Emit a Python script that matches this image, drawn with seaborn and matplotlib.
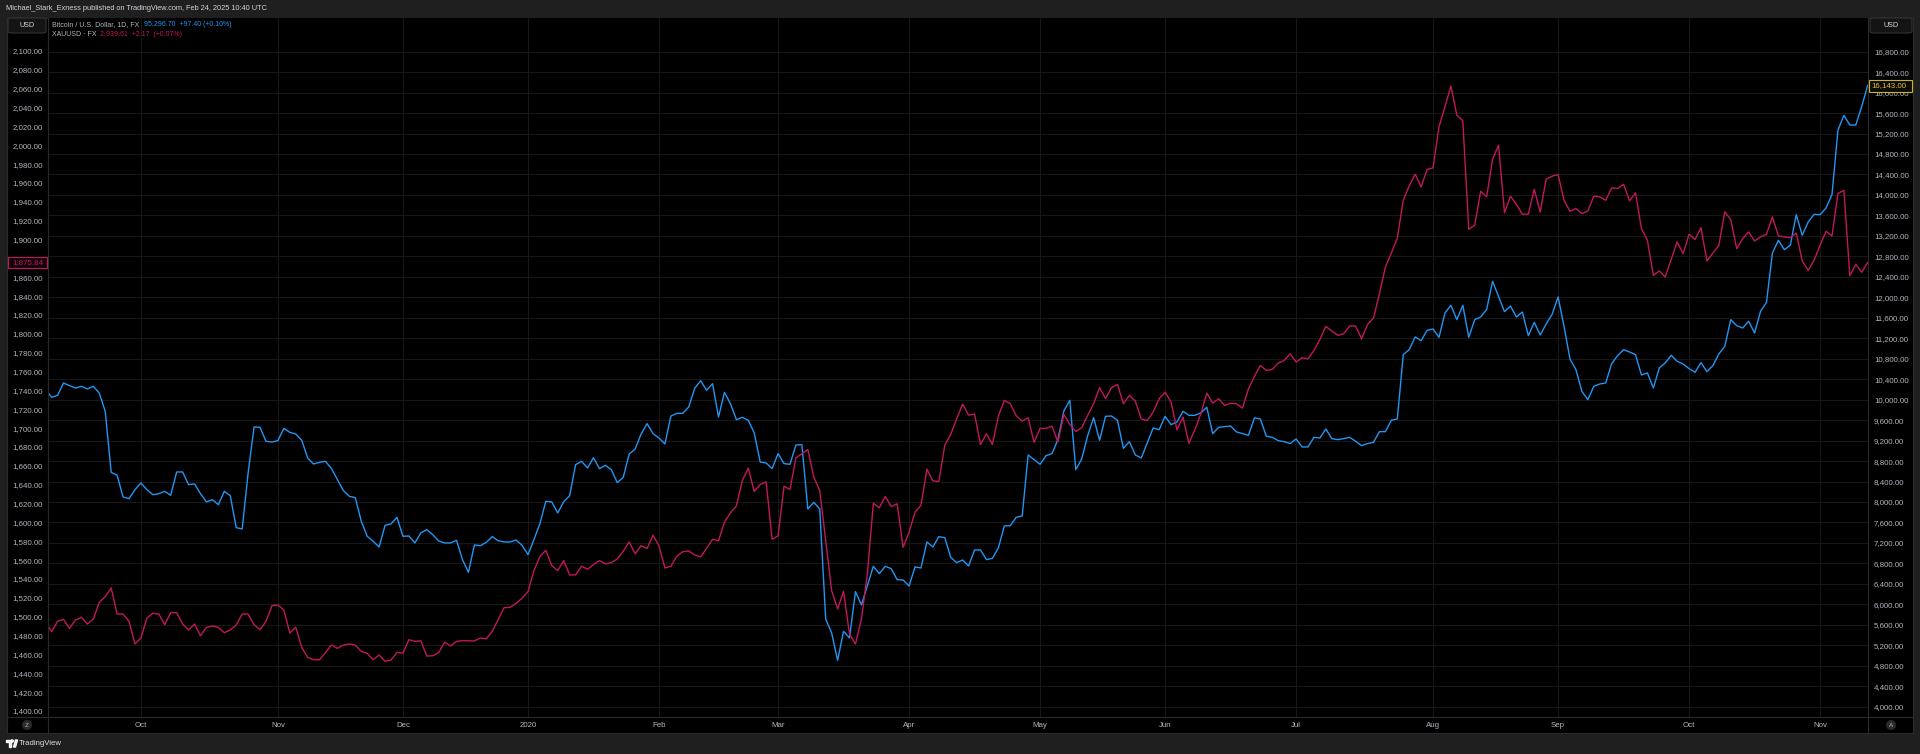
import numpy as np
import pandas as pd
import matplotlib
matplotlib.use('Agg')
import matplotlib.pyplot as plt
import matplotlib.patches as mpatches
from matplotlib.lines import Line2D
from matplotlib.ticker import FuncFormatter
import seaborn as sns

# daily closes (one value per trading bar)
btc_close = [
    10195, 10046, 10085, 10326, 10274, 10228, 10261, 10209, 10261, 10130,
    9772, 8580, 8522, 8098, 8066, 8242, 8372, 8242, 8144, 8163,
    8209, 8131, 8587, 8587, 8339, 8352, 8163, 8001, 8046, 7948,
    8209, 8124, 7499, 7473, 8567, 9466, 9460, 9186, 9173, 9199,
    9440, 9362, 9329, 9206, 8860, 8743, 8776, 8795, 8652, 8437,
    8222, 8111, 8085, 7623, 7330, 7232, 7121, 7545, 7571, 7701,
    7330, 7336, 7200, 7395, 7460, 7362, 7239, 7200, 7200, 7252,
    6874, 6626, 7160, 7147, 7212, 7323, 7245, 7219, 7219, 7258,
    7154, 6972, 7265, 7577, 8014, 8001, 7786, 8007, 8124, 8730,
    8795, 8665, 8867, 8652, 8717, 8632, 8378, 8483, 8938, 9036,
    9329, 9531, 9336, 9251, 9134, 9681, 9733, 9733, 9857, 10222,
    10371, 10183, 10313, 9661, 10143, 9922, 9609, 9655, 9596, 9349,
    8782, 8763, 8652, 8945, 8750, 8737, 9114, 9121, 7864, 7994,
    7864, 5714, 5441, 4907, 5474, 5343, 6249, 5988, 6366, 6744,
    6600, 6744, 6698, 6483, 6477, 6359, 6731, 6711, 7219, 7121,
    7323, 7304, 6919, 6815, 6867, 6750, 7063, 7063, 6874, 6900,
    7102, 7532, 7538, 7701, 7727, 8919, 8828, 8737, 8906, 8945,
    9219, 9779, 9987, 8632, 8841, 9297, 9648, 9206, 9674, 9681,
    9596, 9049, 9180, 8919, 8860, 9154, 9447, 9414, 9675, 9512,
    9564, 9773, 9694, 9694, 9740, 9851, 9336, 9460, 9473, 9486,
    9369, 9336, 9304, 9642, 9623, 9284, 9264, 9199, 9180, 9141,
    9232, 9076, 9076, 9264, 9251, 9427, 9238, 9219, 9238, 9264,
    9186, 9101, 9141, 9167, 9375, 9375, 9597, 9623, 10880, 10977,
    11225, 11153, 11355, 11381, 11218, 11694, 11844, 11564, 11844, 11218,
    11564, 11616, 11759, 12313, 12019, 11720, 11830, 11616, 11713, 11251,
    11511, 11264, 11479, 11668, 12006, 11433, 10795, 10587, 10163, 10000,
    10261, 10306, 10326, 10704, 10860, 10977, 10932, 10880, 10483, 10522,
    10228, 10619, 10717, 10867, 10750, 10697, 10606, 10535, 10724, 10548,
    10665, 10893, 11043, 11563, 11446, 11401, 11531, 11303, 11726, 11902,
    12866, 13114, 12931, 13016, 13615, 13211, 13472, 13622, 13615, 13745,
    14006, 15263, 15556, 15367, 15367, 15732, 16143,
]

gold_close = [
    1494.0, 1484.1, 1495.1, 1497.2, 1487.6, 1496.5, 1499.3, 1492.2, 1497.5, 1515.2,
    1521.2, 1530.5, 1502.8, 1502.8, 1495.1, 1471.0, 1477.4, 1498.6, 1503.6, 1502.8,
    1491.5, 1504.3, 1504.3, 1492.2, 1485.9, 1492.2, 1479.8, 1488.7, 1490.1, 1488.7,
    1483.0, 1485.9, 1491.2, 1502.8, 1502.8, 1491.5, 1486.2, 1495.1, 1511.7, 1512.4,
    1507.1, 1482.7, 1488.7, 1467.4, 1456.8, 1454.3, 1454.3, 1462.1, 1469.9, 1466.4,
    1469.9, 1471.0, 1469.9, 1463.2, 1461.1, 1454.3, 1459.3, 1452.6, 1454.0, 1462.1,
    1461.4, 1475.6, 1473.8, 1474.5, 1458.2, 1458.6, 1461.8, 1473.1, 1468.9, 1473.8,
    1474.5, 1474.5, 1474.2, 1477.4, 1476.6, 1484.4, 1497.2, 1509.6, 1509.9, 1514.2,
    1519.5, 1526.6, 1548.9, 1563.7, 1570.5, 1554.2, 1548.9, 1559.5, 1544.3, 1544.3,
    1553.5, 1550.3, 1555.2, 1559.5, 1556.0, 1557.4, 1561.2, 1569.4, 1579.3, 1566.6,
    1575.4, 1572.2, 1586.4, 1575.1, 1551.7, 1553.5, 1564.1, 1569.0, 1569.7, 1565.5,
    1563.4, 1572.6, 1582.1, 1580.4, 1600.5, 1610.1, 1617.5, 1644.4, 1657.5, 1632.8,
    1640.2, 1643.0, 1582.1, 1585.7, 1638.4, 1634.9, 1668.5, 1672.8, 1677.4, 1648.0,
    1633.8, 1580.7, 1527.6, 1508.1, 1526.9, 1481.6, 1471.0, 1497.5, 1545.3, 1620.4,
    1615.4, 1627.4, 1616.8, 1619.7, 1573.6, 1589.6, 1610.8, 1618.2, 1656.5, 1644.1,
    1643.4, 1682.0, 1693.3, 1709.9, 1725.5, 1713.8, 1714.9, 1682.7, 1694.0, 1682.7,
    1712.8, 1729.4, 1725.9, 1713.1, 1707.5, 1711.0, 1684.8, 1699.7, 1699.7, 1702.1,
    1685.2, 1714.5, 1703.9, 1696.5, 1700.4, 1713.5, 1725.9, 1742.9, 1731.2, 1742.9,
    1746.4, 1725.9, 1734.7, 1728.7, 1709.6, 1708.1, 1717.0, 1731.1, 1738.2, 1727.6,
    1698.2, 1711.6, 1684.0, 1698.2, 1715.2, 1737.1, 1726.5, 1731.1, 1724.0, 1726.5,
    1725.8, 1721.2, 1741.7, 1754.8, 1766.5, 1761.2, 1762.2, 1769.0, 1771.8, 1778.9,
    1770.0, 1774.6, 1773.6, 1782.4, 1794.1, 1807.9, 1803.0, 1798.4, 1800.1, 1808.3,
    1808.3, 1794.8, 1810.0, 1816.8, 1842.6, 1870.9, 1885.8, 1901.7, 1941.7, 1956.9,
    1969.3, 1955.9, 1974.3, 1976.1, 2019.6, 2040.8, 2062.8, 2032.0, 2026.0, 1910.9,
    1915.2, 1951.3, 1945.3, 1985.3, 2000.0, 1928.4, 1946.0, 1937.5, 1926.9, 1926.9,
    1953.4, 1929.3, 1964.0, 1967.2, 1969.0, 1941.7, 1930.0, 1932.9, 1927.6, 1930.4,
    1946.0, 1945.3, 1941.7, 1954.8, 1954.1, 1958.7, 1941.0, 1949.5, 1911.6, 1899.2,
    1862.1, 1866.7, 1860.3, 1879.1, 1897.5, 1885.1, 1905.6, 1900.0, 1912.7, 1877.3,
    1885.8, 1893.6, 1929.3, 1921.2, 1890.4, 1901.0, 1908.1, 1898.5, 1902.8, 1905.6,
    1924.0, 1903.8, 1902.8, 1902.1, 1907.0, 1877.3, 1867.4, 1878.0, 1893.9, 1908.8,
    1903.8, 1948.8, 1952.3, 1861.7, 1873.8, 1865.3, 1875.84,
]

first_bar = '2019-09-09'
closed_days = ['2019-12-25', '2020-01-01']

header_text = 'Michael_Stark_Exness published on TradingView.com, Feb 24, 2025 10:40 UTC'
btc_name = 'Bitcoin / U.S. Dollar, 1D, FX'
btc_quote = '95,296.70  +97.40 (+0.10%)'
gold_name = 'XAUUSD \u00b7 FX'
gold_quote = '2,939.61  +2.17  (+0.07%)'

BLUE = '#2196f3'
CRIMSON = '#c2185b'
TEXT = '#b2b5be'
GRID = '#171717'
EDGE = '#2a2a2a'
BG = '#1f1f1f'

W, H = 1920, 754

sns.set_theme(style='dark')
plt.rcParams['font.family'] = ['Liberation Sans', 'DejaVu Sans']

bars = pd.bdate_range(first_bar, periods=len(btc_close), freq='C', holidays=closed_days)
df = pd.DataFrame({'bar': np.arange(len(bars)), 'date': bars,
                   'btc': btc_close, 'gold': gold_close})

# first bar of every month -> x tick
firsts = df.groupby(df['date'].dt.to_period('M'))['bar'].min().iloc[1:]
month_ticks = firsts.values
month_labels = [str(p.year) if p.month == 1 else p.strftime('%b') for p in firsts.index]


def fx(x):
    return x / W


def fy(y):
    return 1 - y / H


def money(v, pos=None):
    return f'{v:,.2f}'


fig = plt.figure(figsize=(W / 100, H / 100), dpi=100, facecolor=BG)

# black chart panel
fig.add_artist(mpatches.Rectangle((fx(7), fy(733)), fx(1913 - 7), (733 - 18) / H,
                                  transform=fig.transFigure, facecolor='black',
                                  edgecolor=EDGE, linewidth=0.8, zorder=0))

ax = fig.add_axes([fx(48), fy(717), fx(1868 - 48), (717 - 18) / H])
ax.set_facecolor('black')
sns.lineplot(data=df, x='bar', y='btc', ax=ax, color=BLUE, linewidth=1.0)

ax_g = ax.twinx()
sns.lineplot(data=df, x='bar', y='gold', ax=ax_g, color=CRIMSON, linewidth=1.0)

# BTC scale on the right, gold scale on the left
ax.yaxis.tick_right()
ax_g.yaxis.tick_left()

ax.set_xlim(0.39, 306.05)
ax.set_ylim(3799, 17458)
ax.set_yticks(np.arange(4000, 16801, 400))
ax.yaxis.set_major_formatter(FuncFormatter(money))
ax.set_xticks(month_ticks)
ax.set_xticklabels(month_labels)
ax.tick_params(axis='y', which='both', left=False, labelleft=False, right=False,
               labelright=True, length=0, pad=4.3, labelsize=5.7, labelcolor=TEXT)
ax.tick_params(axis='x', length=0, pad=3.6, labelsize=5.7, labelcolor=TEXT)
ax.grid(True, color=GRID, linewidth=0.75)
ax.set_xlabel('')
ax.set_ylabel('')

ax_g.set_ylim(1393.6, 2135.0)
ax_g.set_yticks(np.arange(1400, 2101, 20))
ax_g.yaxis.set_major_formatter(FuncFormatter(money))
ax_g.tick_params(axis='y', which='both', right=False, labelright=False, left=False,
                 labelleft=True, length=0, pad=3.6, labelsize=5.7, labelcolor=TEXT)
ax_g.grid(False)
ax_g.set_ylabel('')
ax_g.set_xlim(0.39, 306.05)
for a in (ax, ax_g):
    for s in a.spines.values():
        s.set_visible(False)

# axis separators
for x in (48, 1868):
    fig.add_artist(Line2D([fx(x), fx(x)], [fy(18), fy(733)], transform=fig.transFigure,
                          color=EDGE, linewidth=0.8))
fig.add_artist(Line2D([fx(7), fx(1913)], [fy(717), fy(717)], transform=fig.transFigure,
                      color=EDGE, linewidth=0.8))

# header and legend
fig.text(fx(6), fy(9), header_text, fontsize=5.3, color='#d1d4dc', va='center', ha='left')
fig.text(fx(52), fy(25), btc_name, fontsize=5.0, color=TEXT, va='center')
fig.text(fx(144), fy(25), btc_quote, fontsize=5.0, color=BLUE, va='center')
fig.text(fx(52), fy(34), gold_name, fontsize=5.0, color=TEXT, va='center')
fig.text(fx(100), fy(34), gold_quote, fontsize=5.0, color=CRIMSON, va='center')

# currency boxes
for x0, x1 in ((8, 46), (1870, 1912)):
    fig.add_artist(mpatches.FancyBboxPatch((fx(x0), fy(33)), fx(x1 - x0), 15 / H,
                                           boxstyle='round,pad=0,rounding_size=0.002',
                                           transform=fig.transFigure, facecolor='#141414',
                                           edgecolor='#333333', linewidth=0.8))
    fig.text(fx((x0 + x1) / 2), fy(25.5), 'USD', fontsize=5.2, color='#d1d4dc',
             ha='center', va='center')

# last price labels
fig.add_artist(mpatches.Rectangle((fx(8), fy(268)), fx(39), 11.5 / H, transform=fig.transFigure,
                                  facecolor='#12040a', edgecolor=CRIMSON, linewidth=0.8, zorder=5))
fig.text(fx(27.5), fy(262.3), money(gold_close[-1]), fontsize=5.7, color=CRIMSON,
         ha='center', va='center', zorder=6)
fig.add_artist(mpatches.Rectangle((fx(1869), fy(91.5)), fx(43), 11.5 / H, transform=fig.transFigure,
                                  facecolor='#0d0c02', edgecolor='#c9b12c', linewidth=0.8, zorder=5))
fig.text(fx(1871), fy(85.8), money(btc_close[-1]), fontsize=5.7, color='#e0c12e',
         ha='left', va='center', zorder=6)

# scale buttons
for cx, letter in ((27, 'Z'), (1891, 'A')):
    fig.add_artist(mpatches.Ellipse((fx(cx), fy(725)), fx(10), 10 / H, transform=fig.transFigure,
                                    facecolor='#2a2a2a', edgecolor='none'))
    fig.text(fx(cx), fy(725.3), letter, fontsize=4.6, color=TEXT, ha='center', va='center')

# footer logo
fig.add_artist(mpatches.Polygon([[fx(6), fy(740)], [fx(10.5), fy(740)], [fx(10.5), fy(747)],
                                 [fx(8.5), fy(747)], [fx(8.5), fy(742)], [fx(6), fy(742)]],
                                closed=True, transform=fig.transFigure, facecolor='#e0e0e0'))
fig.add_artist(mpatches.Ellipse((fx(12.2), fy(741)), fx(2.2), 2.2 / H, transform=fig.transFigure,
                                facecolor='#e0e0e0'))
fig.add_artist(mpatches.Polygon([[fx(13.5), fy(747)], [fx(15.5), fy(740)], [fx(17.5), fy(740)],
                                 [fx(15.5), fy(747)]], closed=True, transform=fig.transFigure,
                                facecolor='#e0e0e0'))
fig.text(fx(19), fy(743.8), 'TradingView', fontsize=5.6, color='#e0e0e0', ha='left', va='center')

fig.savefig('out.png', dpi=100, facecolor=BG)
